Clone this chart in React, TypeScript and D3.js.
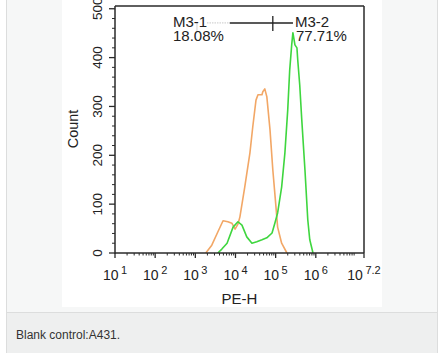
import React from "react";
import * as d3 from "d3";

// PE-H values and counts
const orangePE = [1820, 2570, 3630, 4900, 6460, 8130, 9770, 11500, 12900, 17000, 22900, 26900, 32400, 36300, 45700, 47900, 53700, 60300, 72400, 85100, 100000, 112000, 141000, 191000];
const orangeCount = [0, 16, 43, 66, 64, 61, 49, 59, 74, 135, 205, 258, 313, 324, 324, 330, 336, 320, 252, 170, 102, 53, 20, 0];

const greenPE = [3630, 4570, 6170, 8710, 11500, 14500, 19100, 25700, 33900, 45700, 60300, 81300, 95500, 112000, 141000, 170000, 200000, 224000, 251000, 269000, 302000, 339000, 355000, 398000, 447000, 537000, 631000, 708000, 851000];
const greenCount = [0, 8, 20, 53, 64, 57, 33, 20, 23, 27, 31, 41, 61, 82, 135, 205, 293, 375, 426, 451, 426, 420, 395, 344, 273, 170, 68, 27, 0];

const xExponents = [1, 2, 3, 4, 5, 6, 7.2];
const xExpLabels = ["1", "2", "3", "4", "5", "6", "7.2"];
const yTicks = [0, 100, 200, 300, 400, 500];

// gate markers (PE-H values) and level (count)
const gateLevel = 471;
const gateFaintStart = 1950;
const gateSolidStart = 7200;
const gateDivider = 85000;
const gateEnd = 270000;
const gateLabels = ["M3-1", "M3-2"];
const gatePercents = ["18.08%", "77.71%"];

export default function App() {
  const left = 115, right = 364, top = 6, bottom = 253;
  const x = d3.scaleLog().domain([10, Math.pow(10, 7.2)]).range([left, right]);
  const y = d3.scaleLinear().domain([0, 500]).range([bottom, bottom - 500 * 0.4885]);

  const line = d3.line<[number, number]>().x(d => x(d[0])).y(d => y(d[1]));
  const orangeData: [number, number][] = orangePE.map((v, i) => [v, orangeCount[i]]);
  const greenData: [number, number][] = greenPE.map((v, i) => [v, greenCount[i]]);

  const minorX: number[] = [];
  for (let dec = 1; dec < 8; dec++) {
    for (let m = 2; m <= 9; m++) {
      const v = m * Math.pow(10, dec);
      if (v < Math.pow(10, 7.2)) minorX.push(v);
    }
  }
  const minorY: number[] = [];
  for (let v = 20; v <= 500; v += 20) if (v % 100 !== 0) minorY.push(v);

  const axisColor = "#2a2a2a";
  const font = "Arial, 'Liberation Sans', Helvetica, sans-serif";
  const gy = y(gateLevel);

  return (
    <svg width={445} height={353} style={{ position: "absolute", left: 0, top: 0 }} fontFamily={font}>
      <rect x={0} y={0} width={445} height={353} fill="#ffffff" />
      {/* panel */}
      <rect x={6.5} y={-2} width={431} height={314.5} fill="#f6f7f7" stroke="#dcdddd" strokeWidth={1} />
      <rect x={6.5} y={312.5} width={431} height={42} fill="#eeefef" stroke="#dcdddd" strokeWidth={1} />
      <rect x={62} y={0} width={320} height={307} fill="#ffffff" />
      <text x={16} y={339} fontSize={12} fill="#333">Blank control:A431.</text>

      {/* curves */}
      <path d={line(orangeData) || ""} fill="none" stroke="#f2a766" strokeWidth={1.6} strokeLinejoin="round" />
      <path d={line(greenData) || ""} fill="none" stroke="#3fd63f" strokeWidth={1.6} strokeLinejoin="round" />

      {/* frame */}
      <line x1={left} x2={right} y1={top} y2={top} stroke={axisColor} strokeWidth={1.5} />
      <line x1={right} x2={right} y1={top} y2={bottom} stroke={axisColor} strokeWidth={1.5} />
      <line x1={left} x2={left} y1={top} y2={bottom + 0.75} stroke={axisColor} strokeWidth={1.5} />
      <line x1={left} x2={right} y1={bottom} y2={bottom} stroke={axisColor} strokeWidth={1.5} />

      {/* x ticks */}
      {xExponents.map(e => (
        <line key={"xt" + e} x1={x(Math.pow(10, e))} x2={x(Math.pow(10, e))} y1={bottom} y2={bottom + 5} stroke={axisColor} strokeWidth={1.3} />
      ))}
      {minorX.map(v => (
        <line key={"xm" + v} x1={x(v)} x2={x(v)} y1={bottom} y2={bottom + 2.5} stroke={axisColor} strokeWidth={1} />
      ))}
      {xExponents.map((e, i) => (
        <text key={"xl" + e} x={x(Math.pow(10, e))} y={280} fontSize={14} fill="#222" textAnchor="middle">
          10<tspan dx={2.5} dy={-6} fontSize={11}>{xExpLabels[i]}</tspan>
        </text>
      ))}
      <text x={(left + right) / 2} y={304} fontSize={15} fill="#222" textAnchor="middle">PE-H</text>

      {/* y ticks */}
      {yTicks.map(t => (
        <line key={"yt" + t} x1={left - 6} x2={left} y1={y(t)} y2={y(t)} stroke={axisColor} strokeWidth={1.3} />
      ))}
      {minorY.map(t => (
        <line key={"ym" + t} x1={left - 3} x2={left} y1={y(t)} y2={y(t)} stroke={axisColor} strokeWidth={1} />
      ))}
      {yTicks.map(t => (
        <text key={"yl" + t} transform={`translate(102,${y(t)}) rotate(-90)`} fontSize={13.5} fill="#222" textAnchor="middle">{t}</text>
      ))}
      <text transform={`translate(78,129) rotate(-90)`} fontSize={14.5} fill="#222" textAnchor="middle">Count</text>

      {/* gate */}
      <line x1={x(gateFaintStart)} x2={x(gateSolidStart)} y1={gy} y2={gy} stroke="#c8c8c8" strokeWidth={1} strokeDasharray="1.5 1" />
      <line x1={x(gateSolidStart)} x2={x(gateEnd)} y1={gy} y2={gy} stroke="#222" strokeWidth={1.5} />
      <line x1={x(gateDivider)} x2={x(gateDivider)} y1={gy - 7} y2={gy + 8} stroke="#222" strokeWidth={1.3} />
      <line x1={x(gateFaintStart) - 10} x2={x(gateFaintStart) - 10} y1={gy} y2={gy + 9} stroke="#d0d0d0" strokeWidth={1} />
      <text x={x(gateFaintStart) - 34} y={27} fontSize={15} fill="#222">{gateLabels[0]}</text>
      <text x={x(gateFaintStart) - 34} y={40.5} fontSize={15} fill="#222">{gatePercents[0]}</text>
      <text x={x(gateEnd) + 2} y={27} fontSize={15} fill="#222">{gateLabels[1]}</text>
      <text x={x(gateEnd) + 3} y={40.5} fontSize={15} fill="#222">{gatePercents[1]}</text>
    </svg>
  );
}
